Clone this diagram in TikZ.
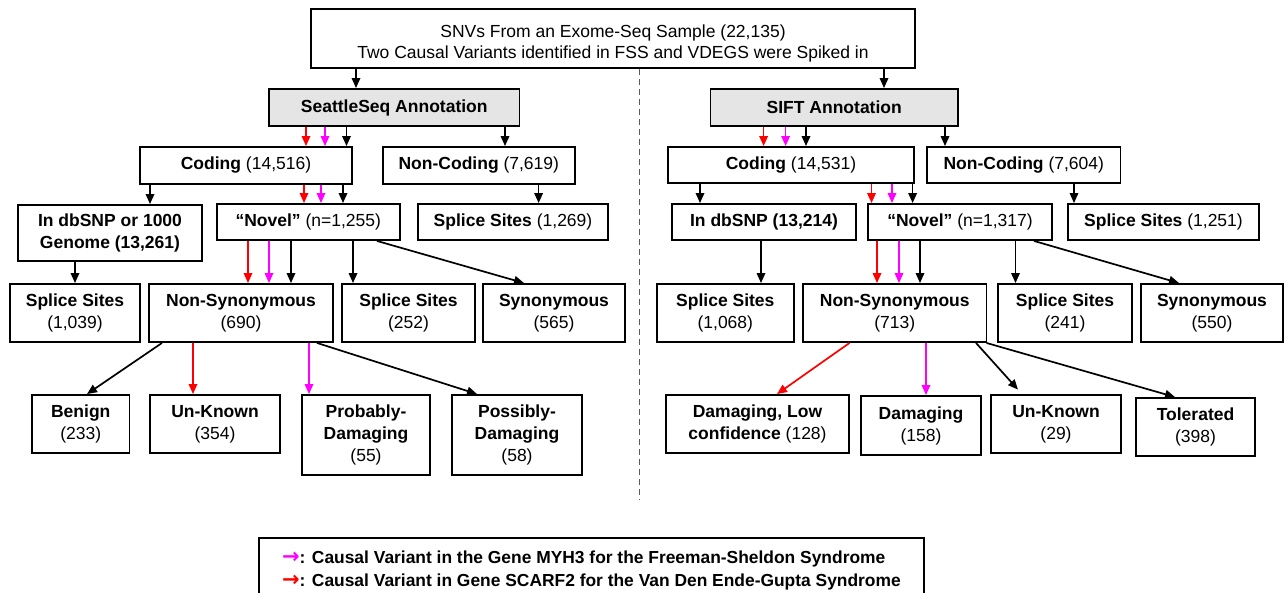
\documentclass[tikz,border=0pt]{standalone}
\usepackage{fontspec}
\setmainfont{Liberation Sans}
\newfontfamily\arrowfont{DejaVu Sans}
\usetikzlibrary{arrows.meta}
\definecolor{boxgray}{RGB}{229,229,229}
\definecolor{dashgray}{RGB}{90,90,90}
\definecolor{pmag}{RGB}{255,0,255}
\definecolor{pred}{RGB}{255,0,0}
\newcommand\mybox[7][]{\node[box,#1,minimum width={#5-#3},minimum height={#6-#4}] (#2) at ({(#3+#5)/2},{(#4+#6)/2}) {#7};}
\newcommand\legarrow[1]{{\arrowfont\bfseries\fontsize{21}{23}\selectfont\color{#1}→}}
\begin{document}
\begin{tikzpicture}[x=1pt,y=-1pt,
  box/.style={draw,line width=1.9pt,inner sep=0pt,align=center,font=\fontsize{17.5}{22}\selectfont},
  arr/.style={line width=1.7pt,-{Triangle[length=10pt,width=8.5pt]}},
  ]
\useasboundingbox (0,0) rectangle (1288,593);
% top
\mybox[font=\fontsize{17.5}{21}\selectfont]{top}{311}{9}{915}{68}{\rule{0pt}{22pt}SNVs From an Exome-Seq Sample (22,135)\\Two Causal Variants identified in FSS and VDEGS were Spiked in}
\mybox[fill=boxgray]{seattle}{269}{89}{519.5}{126}{\textbf{SeattleSeq Annotation}}
\mybox[fill=boxgray]{sift}{710.5}{89}{958}{126}{\textbf{SIFT Annotation}}
% left
\mybox{codingL}{140}{147}{352}{184}{\textbf{Coding} (14,516)}
\mybox{noncodL}{382.6}{147}{575}{184}{\textbf{Non-Coding} (7,619)}
\mybox{dbsnpL}{18}{205}{202}{261}{\textbf{In dbSNP or 1000}\\\textbf{Genome (13,261)}}
\mybox{novelL}{216.6}{204}{400}{240}{\textbf{“Novel”} (n=1,255)}
\mybox{ssLa}{418}{204}{608}{240}{\textbf{Splice Sites} (1,269)}
\mybox{ssLb}{10}{284}{140}{342}{\textbf{Splice Sites}\\(1,039)}
\mybox{nonsynL}{149}{284}{333}{342}{\textbf{Non-Synonymous}\\(690)}
\mybox{ssLc}{342}{284}{475}{342}{\textbf{Splice Sites}\\(252)}
\mybox{synL}{483}{284}{625}{342}{\textbf{Synonymous}\\(565)}
\mybox{benign}{32}{395}{129.5}{453}{\textbf{Benign}\\(233)}
\mybox{unkL}{150}{395}{280}{453}{\textbf{Un-Known}\\(354)}
\mybox{prob}{302}{395}{430}{475}{\textbf{Probably-}\\\textbf{Damaging}\\(55)}
\mybox{poss}{452}{395}{582}{475}{\textbf{Possibly-}\\\textbf{Damaging}\\(58)}
% right
\mybox{codingR}{668}{147}{914}{183}{\textbf{Coding} (14,531)}
\mybox{noncodR}{927}{147}{1120.5}{183}{\textbf{Non-Coding} (7,604)}
\mybox{dbsnpR}{672}{204}{856}{240}{\textbf{In dbSNP (13,214)}}
\mybox{novelR}{868}{204}{1052}{240}{\textbf{“Novel”} (n=1,317)}
\mybox{ssRa}{1068}{204}{1259}{240}{\textbf{Splice Sites} (1,251)}
\mybox{ssRb}{656.6}{284}{794}{342}{\textbf{Splice Sites}\\(1,068)}
\mybox{nonsynR}{803}{284}{986.5}{342}{\textbf{Non-Synonymous}\\(713)}
\mybox{ssRc}{998}{284}{1132}{342}{\textbf{Splice Sites}\\(241)}
\mybox{synR}{1141}{284}{1283}{342}{\textbf{Synonymous}\\(550)}
\mybox{dlow}{666}{395}{849}{453}{\textbf{Damaging, Low}\\\textbf{confidence} (128)}
\mybox{dam}{861}{396}{981}{455}{\textbf{Damaging}\\(158)}
\mybox{unkR}{991}{395}{1121}{453}{\textbf{Un-Known}\\(29)}
\mybox{tol}{1136}{398}{1255}{456}{\textbf{Tolerated}\\(398)}
% legend
\node[draw,line width=1.9pt,anchor=north west,minimum width=665,minimum height=66,inner xsep=13pt,inner ysep=0pt,
  align=left,font=\bfseries\fontsize{17.4}{23}\selectfont] (legend) at (258,537)
  {\legarrow{pmag}: Causal Variant in the Gene MYH3 for the Freeman-Sheldon Syndrome\\
   \legarrow{pred}: Causal Variant in Gene SCARF2 for the Van Den Ende-Gupta Syndrome};
% dashed divider
\coordinate (dashend) at (639,500);
\draw[dashgray,line width=1pt,dash pattern=on 6pt off 4pt] (top.south -| 639,0) -- (dashend);
% arrows top level
\draw[arr] (top.south -| 356,0) -- (seattle.north -| 356,0);
\draw[arr] (top.south -| 884,0) -- (sift.north -| 884,0);
% Seattle
\draw[arr,pred] (seattle.south -| 306,0) -- (codingL.north -| 306,0);
\draw[arr,pmag] (seattle.south -| 325,0) -- (codingL.north -| 325,0);
\draw[arr] (seattle.south -| 346.5,0) -- (codingL.north -| 346.5,0);
\draw[arr] (seattle.south -| 505,0) -- (noncodL.north -| 505,0);
\draw[arr] (codingL.south -| 150,0) -- (dbsnpL.north -| 150,0);
\draw[arr,pred] (codingL.south -| 304,0) -- (novelL.north -| 304,0);
\draw[arr,pmag] (codingL.south -| 321,0) -- (novelL.north -| 321,0);
\draw[arr] (codingL.south -| 343,0) -- (novelL.north -| 343,0);
\draw[arr] (noncodL.south -| 538.6,0) -- (ssLa.north -| 538.6,0);
\draw[arr] (dbsnpL.south -| 75,0) -- (ssLb.north -| 75,0);
\draw[arr,pred] (novelL.south -| 248,0) -- (nonsynL.north -| 248,0);
\draw[arr,pmag] (novelL.south -| 269,0) -- (nonsynL.north -| 269,0);
\draw[arr] (novelL.south -| 291,0) -- (nonsynL.north -| 291,0);
\draw[arr] (novelL.south -| 353,0) -- (ssLc.north -| 353,0);
\draw[arr] (novelL.south -| 377,0) -- (synL.north -| 524,0);
\draw[arr] (nonsynL.south -| 162,0) -- (benign.north -| 87,0);
\draw[arr,pred] (nonsynL.south -| 193,0) -- (unkL.north -| 193,0);
\draw[arr,pmag] (nonsynL.south -| 309,0) -- (prob.north -| 309,0);
\draw[arr] (nonsynL.south -| 317,0) -- (poss.north -| 477,0);
% SIFT
\draw[arr,pred] (sift.south -| 763.6,0) -- (codingR.north -| 763.6,0);
\draw[arr,pmag] (sift.south -| 785.6,0) -- (codingR.north -| 785.6,0);
\draw[arr] (sift.south -| 806,0) -- (codingR.north -| 806,0);
\draw[arr] (sift.south -| 945,0) -- (noncodR.north -| 945,0);
\draw[arr] (codingR.south -| 700,0) -- (dbsnpR.north -| 700,0);
\draw[arr,pred] (codingR.south -| 871.5,0) -- (novelR.north -| 871.5,0);
\draw[arr,pmag] (codingR.south -| 892,0) -- (novelR.north -| 892,0);
\draw[arr] (codingR.south -| 912.6,0) -- (novelR.north -| 912.6,0);
\draw[arr] (noncodR.south -| 1074,0) -- (ssRa.north -| 1074,0);
\draw[arr] (dbsnpR.south -| 761,0) -- (ssRb.north -| 761,0);
\draw[arr,pred] (novelR.south -| 877,0) -- (nonsynR.north -| 877,0);
\draw[arr,pmag] (novelR.south -| 899,0) -- (nonsynR.north -| 899,0);
\draw[arr] (novelR.south -| 920,0) -- (nonsynR.north -| 920,0);
\draw[arr] (novelR.south -| 1015.5,0) -- (ssRc.north -| 1015.5,0);
\draw[arr] (novelR.south -| 1034,0) -- (synR.north -| 1179,0);
\draw[arr,pred] (nonsynR.south -| 849.5,0) -- (dlow.north -| 777,0);
\draw[arr,pmag] (nonsynR.south -| 926,0) -- (dam.north -| 926,0);
\draw[arr,shorten >=6pt] (nonsynR.south -| 976,0) -- (unkR.north -| 1022,0);
\draw[arr] (nonsynR.south -| 986.5,0) -- (tol.north -| 1175,0);
\end{tikzpicture}
\end{document}
